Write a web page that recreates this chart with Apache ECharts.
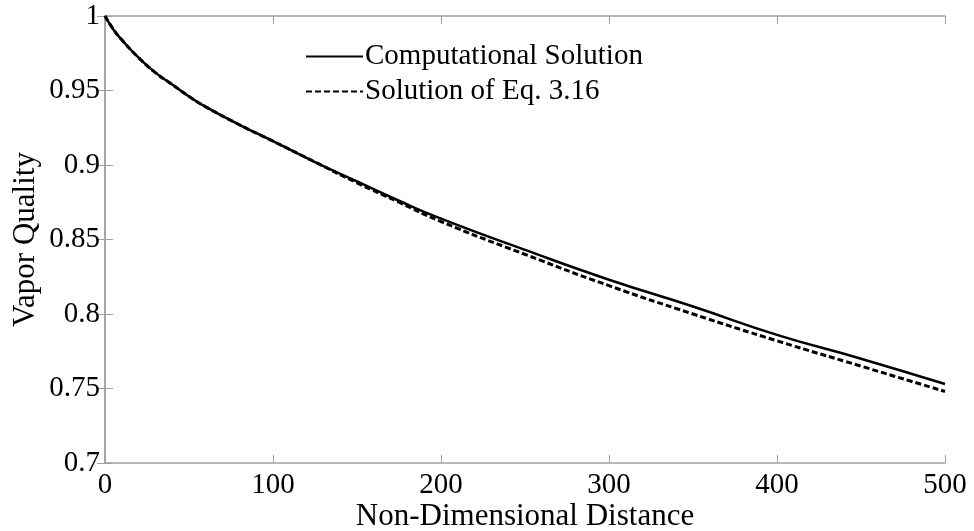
<!DOCTYPE html>
<html>
<head>
<meta charset="utf-8">
<script src="https://cdn.jsdelivr.net/npm/echarts@6/dist/echarts.min.js"></script>
<style>
  html, body { margin: 0; padding: 0; background: #fff; }
  #chart { width: 974px; height: 531px; }
</style>
</head>
<body>
<div id="chart"></div>
<script>
// Vapor quality along the non-dimensional distance
const distance = [0, 5, 10, 20, 30, 40, 50, 60, 80, 100, 125, 150, 175, 200, 250, 300, 350, 400, 450, 500];
const computational = [1.0, 0.991, 0.984, 0.972, 0.962, 0.954, 0.946, 0.939, 0.927, 0.916, 0.902, 0.889, 0.876, 0.864, 0.843, 0.823, 0.805, 0.786, 0.770, 0.753];
const equation316 = [1.0, 0.991, 0.984, 0.972, 0.962, 0.954, 0.946, 0.939, 0.927, 0.916, 0.902, 0.888, 0.875, 0.862, 0.840, 0.819, 0.800, 0.782, 0.765, 0.748];
const seriesNames = ['Computational Solution', 'Solution of Eq. 3.16'];
const xTitle = 'Non-Dimensional Distance';
const yTitle = 'Vapor Quality';

const font = 'Liberation Serif';
const axisGray = '#a0a0a0';

const pairs = (ys) => distance.map((x, i) => [x, ys[i]]);

const chart = echarts.init(document.getElementById('chart'));
chart.setOption({
  animation: false,
  backgroundColor: '#fff',
  grid: { left: 105, right: 29, top: 16, bottom: 68, outerBoundsMode: 'none', containLabel: false },
  legend: {
    orient: 'vertical',
    left: 300,
    top: 37,
    itemWidth: 57,
    itemHeight: 14,
    itemGap: 6,
    itemStyle: { opacity: 0 },
    textStyle: { fontFamily: font, fontSize: 29, color: '#000', padding: [0, 0, 0, -3] },
    data: seriesNames
  },
  xAxis: [{
    type: 'value', min: 0, max: 500, interval: 100,
    name: xTitle, nameLocation: 'middle', nameGap: 38, nameMoveOverlap: false,
    nameTextStyle: { fontFamily: font, fontSize: 31, color: '#000' },
    axisLine: { lineStyle: { color: axisGray, width: 1.5 } },
    axisTick: { inside: true, length: 8, lineStyle: { color: axisGray } },
    axisLabel: { fontFamily: font, fontSize: 29, color: '#000', margin: 8 },
    splitLine: { show: false }
  }, {
    type: 'value', min: 0, max: 500, interval: 100, position: 'top',
    axisLine: { lineStyle: { color: axisGray, width: 1.5 } },
    axisTick: { inside: true, length: 8, lineStyle: { color: axisGray } },
    axisLabel: { show: false },
    splitLine: { show: false }
  }],
  yAxis: [{
    type: 'value', min: 0.7, max: 1, interval: 0.05,
    name: yTitle, nameLocation: 'middle', nameGap: 64, nameMoveOverlap: false,
    nameTextStyle: { fontFamily: font, fontSize: 31, color: '#000' },
    axisLine: { show: true, lineStyle: { color: axisGray, width: 1.5 } },
    axisTick: { show: true, inside: true, length: 8, lineStyle: { color: axisGray } },
    axisLabel: {
      fontFamily: font, fontSize: 29, color: '#000', margin: 5,
      formatter: (v) => String(Math.round(v * 100) / 100)
    },
    splitLine: { show: false }
  }, {
    type: 'value', min: 0.7, max: 1, interval: 0.05, position: 'right',
    axisLine: { show: true, lineStyle: { color: axisGray, width: 1.5 } },
    axisTick: { show: true, inside: true, length: 8, lineStyle: { color: axisGray } },
    axisLabel: { show: false },
    splitLine: { show: false }
  }],
  series: [{
    name: seriesNames[0],
    type: 'line',
    data: pairs(computational),
    showSymbol: false,
    symbol: 'none',
    smooth: true,
    lineStyle: { color: '#000', width: 2.5, type: 'solid' },
    itemStyle: { color: '#000' }
  }, {
    name: seriesNames[1],
    type: 'line',
    data: pairs(equation316),
    showSymbol: false,
    symbol: 'none',
    smooth: true,
    lineStyle: { color: '#000', width: 3, type: [6, 3] },
    itemStyle: { color: '#000' }
  }]
});
</script>
</body>
</html>
